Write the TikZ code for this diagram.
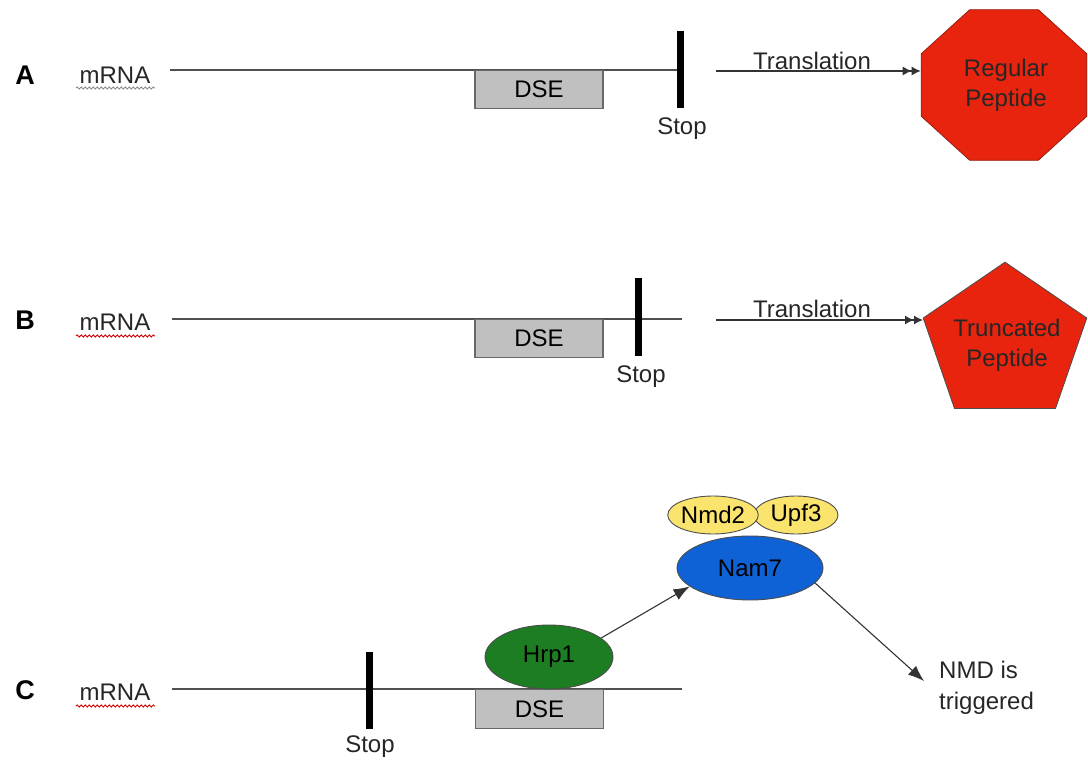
\documentclass[tikz,border=0pt]{standalone}
\usepackage{fontspec}
\setmainfont{Liberation Sans}
\usetikzlibrary{arrows.meta,shapes.geometric,decorations.pathmorphing}
\definecolor{pepred}{RGB}{232,36,14}
\definecolor{pepedge}{RGB}{150,30,20}
\definecolor{dsegray}{RGB}{192,192,192}
\definecolor{dseedge}{RGB}{105,105,105}
\definecolor{hrpgreen}{RGB}{28,125,34}
\definecolor{namblue}{RGB}{14,98,214}
\definecolor{upfyellow}{RGB}{250,228,110}
\definecolor{linegray}{RGB}{80,80,80}
\tikzset{
  txt/.style={font=\fontsize{24}{29}\selectfont, inner sep=0pt, text=black!85},
  rowlabel/.style={font=\fontsize{27}{30}\selectfont\bfseries, inner sep=0pt},
  rna/.style={draw=linegray, line width=1.4pt},
  stopbar/.style={rectangle, fill=black, minimum width=7pt, minimum height=77pt, inner sep=0pt},
  dse/.style={rectangle, draw=dseedge, fill=dsegray, line width=1.2pt, minimum width=128pt, minimum height=38pt, inner sep=0pt, font=\fontsize{24}{29}\selectfont},
  transarrow/.style={draw=black!80, line width=1.3pt, -{Latex[length=9pt,width=9pt]Latex[length=9pt,width=9pt]}},
  sigarrow/.style={draw=black!80, line width=1.1pt, -{Latex[length=16pt,width=12pt]}},
  prot/.style={ellipse, draw=black!70, line width=0.9pt, inner sep=0pt, font=\fontsize{24}{29}\selectfont},
  spell/.style={decorate, decoration={snake, amplitude=1.1pt, segment length=4pt}, line width=0.9pt},
}
\begin{document}
\begin{tikzpicture}[x=1pt,y=-1pt]
\useasboundingbox (0,0) rectangle (1088,762);
% ---------- Row A ----------
\node[rowlabel] (labA) at (25,75) {A};
\node[txt] (mrnaA) at (115,75) {mRNA};
\draw[spell, draw=black!45] (76,88) -- (155,88);
\coordinate (aL) at (170,70);
\coordinate (aR) at (680,70);
\draw[rna] (aL) -- (aR);
\node[dse, anchor=north] (dseA) at (539,70) {DSE};
\node[stopbar] (stopA) at (680,70) {};
\node[txt] (stopTA) at (682,129) {Stop};
\node[regular polygon, regular polygon sides=8, minimum size=163pt, inner sep=0pt, fill=pepred, draw=pepedge, line width=0.8pt, xscale=1.1, transform shape] (octA) at (1004,85) {};
\node[txt, align=center, font=\fontsize{24}{30}\selectfont] (octTxt) at (1006,85) {Regular\\Peptide};
\coordinate (trA) at (716,71);
\draw[transarrow] (trA) -- (trA -| octA.west);
\node[txt] (trTA) at (812,61) {Translation};
% ---------- Row B ----------
\node[rowlabel] (labB) at (25,320) {B};
\node[txt] (mrnaB) at (115,322) {mRNA};
\draw[spell, draw=red!85!black] (76,336) -- (155,336);
\coordinate (bL) at (172,319);
\coordinate (bR) at (682,319);
\draw[rna] (bL) -- (bR);
\node[dse, anchor=north] (dseB) at (539,319) {DSE};
\node[stopbar] (stopB) at (638,317) {};
\node[txt] (stopTB) at (641,377) {Stop};
\node[regular polygon, regular polygon sides=5, minimum size=172pt, inner sep=0pt, fill=pepred, draw=black!70, line width=0.8pt, yscale=0.94, transform shape] (pentB) at (1005,343) {};
\node[txt, align=center, font=\fontsize{24}{30}\selectfont] (pentTxt) at (1007,345) {Truncated\\Peptide};
\coordinate (trB) at (716,320);
\coordinate (trBend) at (923,320);
\draw[transarrow] (trB) -- (trBend);
\node[txt] (trTB) at (812,309) {Translation};
% ---------- Row C ----------
\node[rowlabel] (labC) at (25,690) {C};
\node[txt] (mrnaC) at (115,692) {mRNA};
\draw[spell, draw=red!85!black] (76,706) -- (155,706);
\coordinate (cL) at (172,689);
\coordinate (cR) at (682,689);
\draw[rna] (cL) -- (cR);
\node[dse, anchor=north, minimum height=39pt] (dseC) at (539.5,689) {DSE};
\node[stopbar] (stopC) at (369,690) {};
\node[txt] (stopTC) at (370,747) {Stop};
\node[prot, fill=hrpgreen, minimum width=128pt, minimum height=64pt] (hrp) at (549,657) {Hrp1};
\node[prot, fill=upfyellow, minimum width=84pt, minimum height=38pt] (upf) at (796,515) {Upf3};
\node[prot, fill=upfyellow, minimum width=80pt, minimum height=38pt] (nmd) at (713,515) {Nmd2};
\node[prot, fill=namblue, minimum width=146pt, minimum height=64pt] (nam) at (750,568) {Nam7};
\node[txt, align=left, anchor=west, font=\fontsize{24}{31}\selectfont] (nmdT) at (939,688) {NMD is\\triggered};
\coordinate (nmdArr) at (924,681);
\draw[sigarrow] (hrp.20) -- (nam.197);
\draw[sigarrow] (nam.-13) -- (nmdArr);
\end{tikzpicture}
\end{document}
